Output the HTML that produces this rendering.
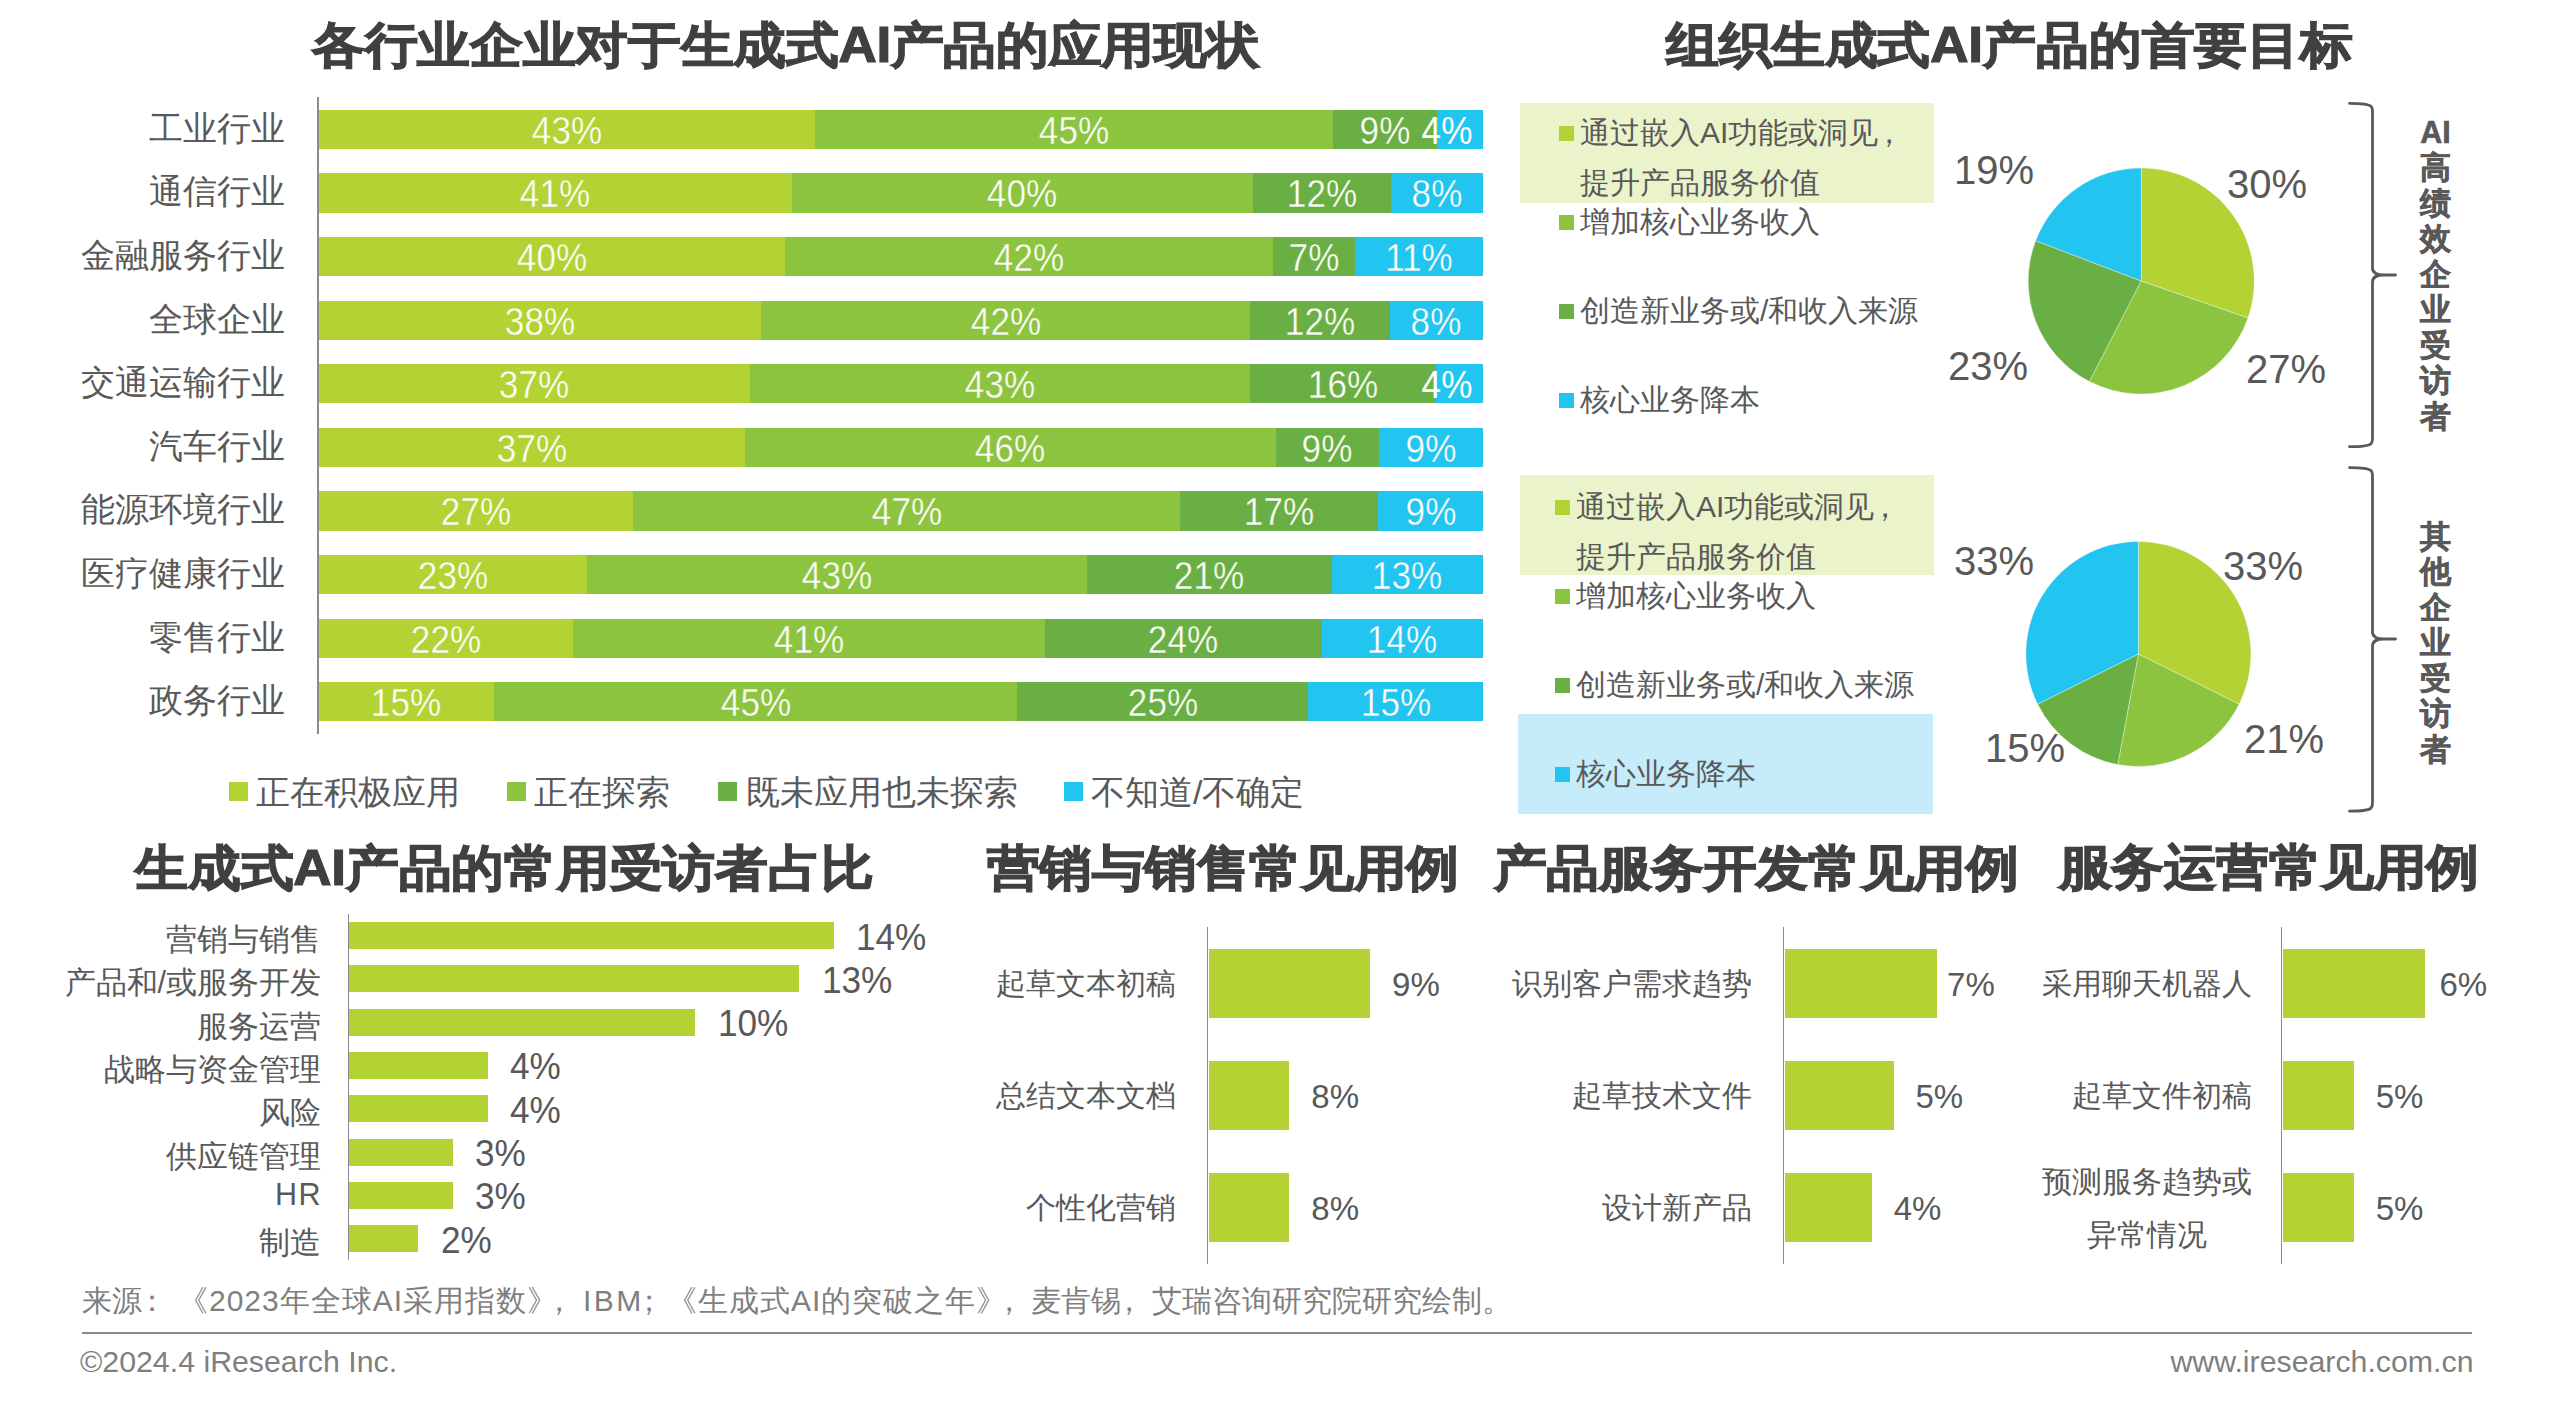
<!DOCTYPE html>
<html><head><meta charset="utf-8"><title>iResearch AI</title><style>
html,body{margin:0;padding:0;}
body{width:2550px;height:1412px;background:#fff;position:relative;overflow:hidden;font-family:"Liberation Sans",sans-serif;}
.a{position:absolute;white-space:nowrap;line-height:1;}
.r{position:absolute;}
</style></head><body>
<div class="a" style="left:312px;top:20px;font-size:53px;color:#404040;font-weight:bold;letter-spacing:-0.35px;-webkit-text-stroke:1.3px #404040;transform:scaleY(0.93);transform-origin:0 0;">各行业企业对于生成式AI产品的应用现状</div>
<div class="a" style="left:1666px;top:19.5px;font-size:53px;color:#404040;font-weight:bold;letter-spacing:-0.15px;-webkit-text-stroke:1.3px #404040;transform:scaleY(0.93);transform-origin:0 0;">组织生成式AI产品的首要目标</div>
<div class="a" style="left:135px;top:842.5px;font-size:53px;color:#404040;font-weight:bold;letter-spacing:-0.25px;-webkit-text-stroke:1.3px #404040;transform:scaleY(0.93);transform-origin:0 0;">生成式AI产品的常用受访者占比</div>
<div class="a" style="left:987px;top:843px;font-size:53px;color:#404040;font-weight:bold;letter-spacing:-0.6px;-webkit-text-stroke:1.3px #404040;transform:scaleY(0.93);transform-origin:0 0;">营销与销售常见用例</div>
<div class="a" style="left:1494px;top:843px;font-size:53px;color:#404040;font-weight:bold;letter-spacing:-0.6px;-webkit-text-stroke:1.3px #404040;transform:scaleY(0.93);transform-origin:0 0;">产品服务开发常见用例</div>
<div class="a" style="left:2058.5px;top:841.5px;font-size:53px;color:#404040;font-weight:bold;letter-spacing:-0.45px;-webkit-text-stroke:1.3px #404040;transform:scaleY(0.93);transform-origin:0 0;">服务运营常见用例</div>
<div class="r" style="left:317.2px;top:97px;width:1.6px;height:637px;background:#8a8a94;"></div>
<div class="r" style="left:319.0px;top:109.8px;width:496.06px;height:39.3px;background:#b3d234;"></div>
<div class="a" style="left:66.78px;width:1000px;text-align:center;top:111.8px;font-size:38.6px;color:#fdfef8;transform:scaleX(0.91);-webkit-text-stroke:0.4px #b3d234;">43%</div>
<div class="r" style="left:814.56px;top:109.8px;width:519.11px;height:39.3px;background:#8cc43f;"></div>
<div class="a" style="left:573.87px;width:1000px;text-align:center;top:111.8px;font-size:38.6px;color:#fdfef8;transform:scaleX(0.91);-webkit-text-stroke:0.4px #8cc43f;">45%</div>
<div class="r" style="left:1333.18px;top:109.8px;width:104.22px;height:39.3px;background:#6aaf43;"></div>
<div class="a" style="left:885.04px;width:1000px;text-align:center;top:111.8px;font-size:38.6px;color:#fdfef8;transform:scaleX(0.91);-webkit-text-stroke:0.4px #6aaf43;">9%</div>
<div class="r" style="left:1436.9px;top:109.8px;width:46.6px;height:39.3px;background:#22c4f0;"></div>
<div class="a" style="left:946.6px;width:1000px;text-align:center;top:111.8px;font-size:38.6px;color:#fdfef8;transform:scaleX(0.91);-webkit-text-stroke:0px #22c4f0;">4%</div>
<div class="a" style="right:2265px;top:110.8px;font-size:34px;color:#595959;">工业行业</div>
<div class="r" style="left:319.0px;top:173.4px;width:473.01px;height:39.3px;background:#b3d234;"></div>
<div class="a" style="left:55.26px;width:1000px;text-align:center;top:175.4px;font-size:38.6px;color:#fdfef8;transform:scaleX(0.91);-webkit-text-stroke:0.4px #b3d234;">41%</div>
<div class="r" style="left:791.51px;top:173.4px;width:461.49px;height:39.3px;background:#8cc43f;"></div>
<div class="a" style="left:522.01px;width:1000px;text-align:center;top:175.4px;font-size:38.6px;color:#fdfef8;transform:scaleX(0.91);-webkit-text-stroke:0.4px #8cc43f;">40%</div>
<div class="r" style="left:1252.5px;top:173.4px;width:138.8px;height:39.3px;background:#6aaf43;"></div>
<div class="a" style="left:821.65px;width:1000px;text-align:center;top:175.4px;font-size:38.6px;color:#fdfef8;transform:scaleX(0.91);-webkit-text-stroke:0.4px #6aaf43;">12%</div>
<div class="r" style="left:1390.8px;top:173.4px;width:92.7px;height:39.3px;background:#22c4f0;"></div>
<div class="a" style="left:936.9px;width:1000px;text-align:center;top:175.4px;font-size:38.6px;color:#fdfef8;transform:scaleX(0.91);-webkit-text-stroke:0.4px #22c4f0;">8%</div>
<div class="a" style="right:2265px;top:174.4px;font-size:34px;color:#595959;">通信行业</div>
<div class="r" style="left:319.0px;top:237.0px;width:466.1px;height:39.3px;background:#b3d234;"></div>
<div class="a" style="left:51.8px;width:1000px;text-align:center;top:239.0px;font-size:38.6px;color:#fdfef8;transform:scaleX(0.91);-webkit-text-stroke:0.4px #b3d234;">40%</div>
<div class="r" style="left:784.6px;top:237.0px;width:489.38px;height:39.3px;background:#8cc43f;"></div>
<div class="a" style="left:529.04px;width:1000px;text-align:center;top:239.0px;font-size:38.6px;color:#fdfef8;transform:scaleX(0.91);-webkit-text-stroke:0.4px #8cc43f;">42%</div>
<div class="r" style="left:1273.48px;top:237.0px;width:81.98px;height:39.3px;background:#6aaf43;"></div>
<div class="a" style="left:814.22px;width:1000px;text-align:center;top:239.0px;font-size:38.6px;color:#fdfef8;transform:scaleX(0.91);-webkit-text-stroke:0.4px #6aaf43;">7%</div>
<div class="r" style="left:1354.96px;top:237.0px;width:128.54px;height:39.3px;background:#22c4f0;"></div>
<div class="a" style="left:918.98px;width:1000px;text-align:center;top:239.0px;font-size:38.6px;color:#fdfef8;transform:scaleX(0.91);-webkit-text-stroke:0.4px #22c4f0;">11%</div>
<div class="a" style="right:2265px;top:238.0px;font-size:34px;color:#595959;">金融服务行业</div>
<div class="r" style="left:319.0px;top:300.6px;width:442.82px;height:39.3px;background:#b3d234;"></div>
<div class="a" style="left:40.16px;width:1000px;text-align:center;top:302.6px;font-size:38.6px;color:#fdfef8;transform:scaleX(0.91);-webkit-text-stroke:0.4px #b3d234;">38%</div>
<div class="r" style="left:761.32px;top:300.6px;width:489.38px;height:39.3px;background:#8cc43f;"></div>
<div class="a" style="left:505.76px;width:1000px;text-align:center;top:302.6px;font-size:38.6px;color:#fdfef8;transform:scaleX(0.91);-webkit-text-stroke:0.4px #8cc43f;">42%</div>
<div class="r" style="left:1250.2px;top:300.6px;width:140.18px;height:39.3px;background:#6aaf43;"></div>
<div class="a" style="left:820.04px;width:1000px;text-align:center;top:302.6px;font-size:38.6px;color:#fdfef8;transform:scaleX(0.91);-webkit-text-stroke:0.4px #6aaf43;">12%</div>
<div class="r" style="left:1389.88px;top:300.6px;width:93.62px;height:39.3px;background:#22c4f0;"></div>
<div class="a" style="left:936.44px;width:1000px;text-align:center;top:302.6px;font-size:38.6px;color:#fdfef8;transform:scaleX(0.91);-webkit-text-stroke:0.4px #22c4f0;">8%</div>
<div class="a" style="right:2265px;top:301.6px;font-size:34px;color:#595959;">全球企业</div>
<div class="r" style="left:319.0px;top:364.2px;width:431.18px;height:39.3px;background:#b3d234;"></div>
<div class="a" style="left:34.34px;width:1000px;text-align:center;top:366.2px;font-size:38.6px;color:#fdfef8;transform:scaleX(0.91);-webkit-text-stroke:0.4px #b3d234;">37%</div>
<div class="r" style="left:749.68px;top:364.2px;width:501.02px;height:39.3px;background:#8cc43f;"></div>
<div class="a" style="left:499.94px;width:1000px;text-align:center;top:366.2px;font-size:38.6px;color:#fdfef8;transform:scaleX(0.91);-webkit-text-stroke:0.4px #8cc43f;">43%</div>
<div class="r" style="left:1250.2px;top:364.2px;width:186.74px;height:39.3px;background:#6aaf43;"></div>
<div class="a" style="left:843.32px;width:1000px;text-align:center;top:366.2px;font-size:38.6px;color:#fdfef8;transform:scaleX(0.91);-webkit-text-stroke:0.4px #6aaf43;">16%</div>
<div class="r" style="left:1436.44px;top:364.2px;width:47.06px;height:39.3px;background:#22c4f0;"></div>
<div class="a" style="left:946.6px;width:1000px;text-align:center;top:366.2px;font-size:38.6px;color:#fdfef8;transform:scaleX(0.91);-webkit-text-stroke:0px #22c4f0;">4%</div>
<div class="a" style="right:2265px;top:365.2px;font-size:34px;color:#595959;">交通运输行业</div>
<div class="r" style="left:319.0px;top:427.8px;width:426.92px;height:39.3px;background:#b3d234;"></div>
<div class="a" style="left:32.21px;width:1000px;text-align:center;top:429.8px;font-size:38.6px;color:#fdfef8;transform:scaleX(0.91);-webkit-text-stroke:0.4px #b3d234;">37%</div>
<div class="r" style="left:745.42px;top:427.8px;width:530.64px;height:39.3px;background:#8cc43f;"></div>
<div class="a" style="left:510.49px;width:1000px;text-align:center;top:429.8px;font-size:38.6px;color:#fdfef8;transform:scaleX(0.91);-webkit-text-stroke:0.4px #8cc43f;">46%</div>
<div class="r" style="left:1275.55px;top:427.8px;width:104.22px;height:39.3px;background:#6aaf43;"></div>
<div class="a" style="left:827.42px;width:1000px;text-align:center;top:429.8px;font-size:38.6px;color:#fdfef8;transform:scaleX(0.91);-webkit-text-stroke:0.4px #6aaf43;">9%</div>
<div class="r" style="left:1379.28px;top:427.8px;width:104.22px;height:39.3px;background:#22c4f0;"></div>
<div class="a" style="left:931.14px;width:1000px;text-align:center;top:429.8px;font-size:38.6px;color:#fdfef8;transform:scaleX(0.91);-webkit-text-stroke:0.4px #22c4f0;">9%</div>
<div class="a" style="right:2265px;top:428.8px;font-size:34px;color:#595959;">汽车行业</div>
<div class="r" style="left:319.0px;top:491.4px;width:314.78px;height:39.3px;background:#b3d234;"></div>
<div class="a" style="left:-23.86px;width:1000px;text-align:center;top:493.4px;font-size:38.6px;color:#fdfef8;transform:scaleX(0.91);-webkit-text-stroke:0.4px #b3d234;">27%</div>
<div class="r" style="left:633.28px;top:491.4px;width:547.58px;height:39.3px;background:#8cc43f;"></div>
<div class="a" style="left:406.82px;width:1000px;text-align:center;top:493.4px;font-size:38.6px;color:#fdfef8;transform:scaleX(0.91);-webkit-text-stroke:0.4px #8cc43f;">47%</div>
<div class="r" style="left:1180.36px;top:491.4px;width:198.38px;height:39.3px;background:#6aaf43;"></div>
<div class="a" style="left:779.3px;width:1000px;text-align:center;top:493.4px;font-size:38.6px;color:#fdfef8;transform:scaleX(0.91);-webkit-text-stroke:0.4px #6aaf43;">17%</div>
<div class="r" style="left:1378.24px;top:491.4px;width:105.26px;height:39.3px;background:#22c4f0;"></div>
<div class="a" style="left:930.62px;width:1000px;text-align:center;top:493.4px;font-size:38.6px;color:#fdfef8;transform:scaleX(0.91);-webkit-text-stroke:0.4px #22c4f0;">9%</div>
<div class="a" style="right:2265px;top:492.4px;font-size:34px;color:#595959;">能源环境行业</div>
<div class="r" style="left:319.0px;top:555.0px;width:268.22px;height:39.3px;background:#b3d234;"></div>
<div class="a" style="left:-47.14px;width:1000px;text-align:center;top:557.0px;font-size:38.6px;color:#fdfef8;transform:scaleX(0.91);-webkit-text-stroke:0.4px #b3d234;">23%</div>
<div class="r" style="left:586.72px;top:555.0px;width:501.02px;height:39.3px;background:#8cc43f;"></div>
<div class="a" style="left:336.98px;width:1000px;text-align:center;top:557.0px;font-size:38.6px;color:#fdfef8;transform:scaleX(0.91);-webkit-text-stroke:0.4px #8cc43f;">43%</div>
<div class="r" style="left:1087.24px;top:555.0px;width:244.94px;height:39.3px;background:#6aaf43;"></div>
<div class="a" style="left:709.46px;width:1000px;text-align:center;top:557.0px;font-size:38.6px;color:#fdfef8;transform:scaleX(0.91);-webkit-text-stroke:0.4px #6aaf43;">21%</div>
<div class="r" style="left:1331.68px;top:555.0px;width:151.82px;height:39.3px;background:#22c4f0;"></div>
<div class="a" style="left:907.34px;width:1000px;text-align:center;top:557.0px;font-size:38.6px;color:#fdfef8;transform:scaleX(0.91);-webkit-text-stroke:0.4px #22c4f0;">13%</div>
<div class="a" style="right:2265px;top:556.0px;font-size:34px;color:#595959;">医疗健康行业</div>
<div class="r" style="left:319.0px;top:618.6px;width:254.04px;height:39.3px;background:#b3d234;"></div>
<div class="a" style="left:-54.23px;width:1000px;text-align:center;top:620.6px;font-size:38.6px;color:#fdfef8;transform:scaleX(0.91);-webkit-text-stroke:0.4px #b3d234;">22%</div>
<div class="r" style="left:572.54px;top:618.6px;width:473.01px;height:39.3px;background:#8cc43f;"></div>
<div class="a" style="left:308.8px;width:1000px;text-align:center;top:620.6px;font-size:38.6px;color:#fdfef8;transform:scaleX(0.91);-webkit-text-stroke:0.4px #8cc43f;">41%</div>
<div class="r" style="left:1045.06px;top:618.6px;width:277.09px;height:39.3px;background:#6aaf43;"></div>
<div class="a" style="left:683.36px;width:1000px;text-align:center;top:620.6px;font-size:38.6px;color:#fdfef8;transform:scaleX(0.91);-webkit-text-stroke:0.4px #6aaf43;">24%</div>
<div class="r" style="left:1321.65px;top:618.6px;width:161.85px;height:39.3px;background:#22c4f0;"></div>
<div class="a" style="left:902.33px;width:1000px;text-align:center;top:620.6px;font-size:38.6px;color:#fdfef8;transform:scaleX(0.91);-webkit-text-stroke:0.4px #22c4f0;">14%</div>
<div class="a" style="right:2265px;top:619.6px;font-size:34px;color:#595959;">零售行业</div>
<div class="r" style="left:319.0px;top:682.2px;width:175.1px;height:39.3px;background:#b3d234;"></div>
<div class="a" style="left:-93.7px;width:1000px;text-align:center;top:684.2px;font-size:38.6px;color:#fdfef8;transform:scaleX(0.91);-webkit-text-stroke:0.4px #b3d234;">15%</div>
<div class="r" style="left:493.6px;top:682.2px;width:524.3px;height:39.3px;background:#8cc43f;"></div>
<div class="a" style="left:255.5px;width:1000px;text-align:center;top:684.2px;font-size:38.6px;color:#fdfef8;transform:scaleX(0.91);-webkit-text-stroke:0.4px #8cc43f;">45%</div>
<div class="r" style="left:1017.4px;top:682.2px;width:291.5px;height:39.3px;background:#6aaf43;"></div>
<div class="a" style="left:662.9px;width:1000px;text-align:center;top:684.2px;font-size:38.6px;color:#fdfef8;transform:scaleX(0.91);-webkit-text-stroke:0.4px #6aaf43;">25%</div>
<div class="r" style="left:1308.4px;top:682.2px;width:175.1px;height:39.3px;background:#22c4f0;"></div>
<div class="a" style="left:895.7px;width:1000px;text-align:center;top:684.2px;font-size:38.6px;color:#fdfef8;transform:scaleX(0.91);-webkit-text-stroke:0.4px #22c4f0;">15%</div>
<div class="a" style="right:2265px;top:683.2px;font-size:34px;color:#595959;">政务行业</div>
<div class="r" style="left:229px;top:782px;width:19px;height:19px;background:#b3d234;"></div>
<div class="a" style="left:256px;top:775px;font-size:34px;color:#595959;">正在积极应用</div>
<div class="r" style="left:507px;top:782px;width:19px;height:19px;background:#8cc43f;"></div>
<div class="a" style="left:534px;top:775px;font-size:34px;color:#595959;">正在探索</div>
<div class="r" style="left:718px;top:782px;width:19px;height:19px;background:#6aaf43;"></div>
<div class="a" style="left:746px;top:775px;font-size:34px;color:#595959;">既未应用也未探索</div>
<div class="r" style="left:1064px;top:782px;width:19px;height:19px;background:#22c4f0;"></div>
<div class="a" style="left:1091px;top:775px;font-size:34px;color:#595959;">不知道/不确定</div>
<div class="r" style="left:1519.5px;top:103px;width:414.5px;height:100px;background:#ebf3cb;"></div>
<div class="r" style="left:1559px;top:126px;width:15px;height:15px;background:#b3d234;"></div>
<div class="a" style="left:1580px;top:108px;font-size:30px;color:#595959;line-height:50px;">通过嵌入AI功能或洞见<span style="margin-left:-4px">，</span><br>提升产品服务价值</div>
<div class="r" style="left:1559px;top:215px;width:15px;height:15px;background:#8cc43f;"></div>
<div class="a" style="left:1580px;top:197px;font-size:30px;color:#595959;line-height:50px;">增加核心业务收入</div>
<div class="r" style="left:1559px;top:304px;width:15px;height:15px;background:#6aaf43;"></div>
<div class="a" style="left:1580px;top:286px;font-size:30px;color:#595959;line-height:50px;">创造新业务或/和收入来源</div>
<div class="r" style="left:1559px;top:393px;width:15px;height:15px;background:#22c4f0;"></div>
<div class="a" style="left:1580px;top:375px;font-size:30px;color:#595959;line-height:50px;">核心业务降本</div>
<div class="r" style="left:1519.5px;top:475px;width:414.5px;height:100px;background:#ebf3cb;"></div>
<div class="r" style="left:1518px;top:714px;width:415px;height:100px;background:#c6ecf9;"></div>
<div class="r" style="left:1555px;top:499.5px;width:15px;height:15px;background:#b3d234;"></div>
<div class="a" style="left:1576px;top:481.5px;font-size:30px;color:#595959;line-height:50px;">通过嵌入AI功能或洞见<span style="margin-left:-4px">，</span><br>提升产品服务价值</div>
<div class="r" style="left:1555px;top:588.5px;width:15px;height:15px;background:#8cc43f;"></div>
<div class="a" style="left:1576px;top:570.5px;font-size:30px;color:#595959;line-height:50px;">增加核心业务收入</div>
<div class="r" style="left:1555px;top:677.5px;width:15px;height:15px;background:#6aaf43;"></div>
<div class="a" style="left:1576px;top:659.5px;font-size:30px;color:#595959;line-height:50px;">创造新业务或/和收入来源</div>
<div class="r" style="left:1555px;top:766.5px;width:15px;height:15px;background:#22c4f0;"></div>
<div class="a" style="left:1576px;top:748.5px;font-size:30px;color:#595959;line-height:50px;">核心业务降本</div>
<svg class="r" style="left:0;top:0" width="2550" height="1412" viewBox="0 0 2550 1412"><path d="M2141.2,281 L2141.20,168.00 A113,113 0 0 1 2247.99,317.96 Z" fill="#b3d234" stroke="#ffffff" stroke-opacity="0.35" stroke-width="1" stroke-linejoin="round"/><path d="M2141.2,281 L2247.99,317.96 A113,113 0 0 1 2089.42,381.44 Z" fill="#8cc43f" stroke="#ffffff" stroke-opacity="0.35" stroke-width="1" stroke-linejoin="round"/><path d="M2141.2,281 L2089.42,381.44 A113,113 0 0 1 2035.64,240.67 Z" fill="#6aaf43" stroke="#ffffff" stroke-opacity="0.35" stroke-width="1" stroke-linejoin="round"/><path d="M2141.2,281 L2035.64,240.67 A113,113 0 0 1 2141.20,168.00 Z" fill="#22c4f0" stroke="#ffffff" stroke-opacity="0.35" stroke-width="1" stroke-linejoin="round"/><path d="M2138.4,654 L2138.40,541.50 A112.5,112.5 0 0 1 2239.11,704.15 Z" fill="#b3d234" stroke="#ffffff" stroke-opacity="0.35" stroke-width="1" stroke-linejoin="round"/><path d="M2138.4,654 L2239.11,704.15 A112.5,112.5 0 0 1 2117.73,764.58 Z" fill="#8cc43f" stroke="#ffffff" stroke-opacity="0.35" stroke-width="1" stroke-linejoin="round"/><path d="M2138.4,654 L2117.73,764.58 A112.5,112.5 0 0 1 2037.69,704.15 Z" fill="#6aaf43" stroke="#ffffff" stroke-opacity="0.35" stroke-width="1" stroke-linejoin="round"/><path d="M2138.4,654 L2037.69,704.15 A112.5,112.5 0 0 1 2138.40,541.50 Z" fill="#22c4f0" stroke="#ffffff" stroke-opacity="0.35" stroke-width="1" stroke-linejoin="round"/><path d="M2349.5,103.3 C2362,103.3 2369,104.5 2371,106.3 Q2372.5,107.8 2372.5,111.3 L2372.5,268 C2372.5,273 2377,275 2384,275 L2395.5,275 M2372.5,282 C2372.5,277 2377,275 2384,275 M2372.5,282 L2372.5,438.7 Q2372.5,442.2 2371,443.7 C2369,445.5 2362,446.7 2349.5,446.7" fill="none" stroke="#595959" stroke-width="2.8" stroke-linecap="round" stroke-linejoin="round"/><path d="M2349.5,467.6 C2362,467.6 2369,468.8 2371,470.6 Q2372.5,472.1 2372.5,475.6 L2372.5,632 C2372.5,637 2377,639 2384,639 L2395.5,639 M2372.5,646 C2372.5,641 2377,639 2384,639 M2372.5,646 L2372.5,803.1 Q2372.5,806.6 2371,808.1 C2369,809.9 2362,811.1 2349.5,811.1" fill="none" stroke="#595959" stroke-width="2.8" stroke-linecap="round" stroke-linejoin="round"/></svg>
<div class="a" style="left:1954px;top:150px;font-size:40px;color:#595959;">19%</div>
<div class="a" style="left:2227px;top:164px;font-size:40px;color:#595959;">30%</div>
<div class="a" style="left:1948px;top:346px;font-size:40px;color:#595959;">23%</div>
<div class="a" style="left:2246px;top:349px;font-size:40px;color:#595959;">27%</div>
<div class="a" style="left:1954px;top:541px;font-size:40px;color:#595959;">33%</div>
<div class="a" style="left:2223px;top:546px;font-size:40px;color:#595959;">33%</div>
<div class="a" style="left:1985px;top:728px;font-size:40px;color:#595959;">15%</div>
<div class="a" style="left:2244px;top:719px;font-size:40px;color:#595959;">21%</div>
<div class="a" style="left:1935.5px;width:1000px;text-align:center;top:116.5px;font-size:30.5px;color:#595959;font-weight:bold;-webkit-text-stroke:0.6px #595959;">AI</div>
<div class="a" style="left:1935.5px;width:1000px;text-align:center;top:152.0px;font-size:30.5px;color:#595959;font-weight:bold;-webkit-text-stroke:0.6px #595959;">高</div>
<div class="a" style="left:1935.5px;width:1000px;text-align:center;top:187.5px;font-size:30.5px;color:#595959;font-weight:bold;-webkit-text-stroke:0.6px #595959;">绩</div>
<div class="a" style="left:1935.5px;width:1000px;text-align:center;top:223.0px;font-size:30.5px;color:#595959;font-weight:bold;-webkit-text-stroke:0.6px #595959;">效</div>
<div class="a" style="left:1935.5px;width:1000px;text-align:center;top:258.5px;font-size:30.5px;color:#595959;font-weight:bold;-webkit-text-stroke:0.6px #595959;">企</div>
<div class="a" style="left:1935.5px;width:1000px;text-align:center;top:294.0px;font-size:30.5px;color:#595959;font-weight:bold;-webkit-text-stroke:0.6px #595959;">业</div>
<div class="a" style="left:1935.5px;width:1000px;text-align:center;top:329.5px;font-size:30.5px;color:#595959;font-weight:bold;-webkit-text-stroke:0.6px #595959;">受</div>
<div class="a" style="left:1935.5px;width:1000px;text-align:center;top:365.0px;font-size:30.5px;color:#595959;font-weight:bold;-webkit-text-stroke:0.6px #595959;">访</div>
<div class="a" style="left:1935.5px;width:1000px;text-align:center;top:400.5px;font-size:30.5px;color:#595959;font-weight:bold;-webkit-text-stroke:0.6px #595959;">者</div>
<div class="a" style="left:1935.5px;width:1000px;text-align:center;top:520.5px;font-size:30.5px;color:#595959;font-weight:bold;-webkit-text-stroke:0.6px #595959;">其</div>
<div class="a" style="left:1935.5px;width:1000px;text-align:center;top:556.0px;font-size:30.5px;color:#595959;font-weight:bold;-webkit-text-stroke:0.6px #595959;">他</div>
<div class="a" style="left:1935.5px;width:1000px;text-align:center;top:591.5px;font-size:30.5px;color:#595959;font-weight:bold;-webkit-text-stroke:0.6px #595959;">企</div>
<div class="a" style="left:1935.5px;width:1000px;text-align:center;top:627.0px;font-size:30.5px;color:#595959;font-weight:bold;-webkit-text-stroke:0.6px #595959;">业</div>
<div class="a" style="left:1935.5px;width:1000px;text-align:center;top:662.5px;font-size:30.5px;color:#595959;font-weight:bold;-webkit-text-stroke:0.6px #595959;">受</div>
<div class="a" style="left:1935.5px;width:1000px;text-align:center;top:698.0px;font-size:30.5px;color:#595959;font-weight:bold;-webkit-text-stroke:0.6px #595959;">访</div>
<div class="a" style="left:1935.5px;width:1000px;text-align:center;top:733.5px;font-size:30.5px;color:#595959;font-weight:bold;-webkit-text-stroke:0.6px #595959;">者</div>
<div class="r" style="left:347.7px;top:914px;width:1.6px;height:346px;background:#8a8a94;"></div>
<div class="r" style="left:349px;top:922.0px;width:484.96px;height:27px;background:#b3d234;"></div>
<div class="a" style="left:856.46px;top:918.5px;font-size:37px;color:#595959;transform:scaleX(0.95);transform-origin:0 0;">14%</div>
<div class="a" style="right:2229px;top:924.0px;font-size:30.5px;color:#595959;">营销与销售</div>
<div class="r" style="left:349px;top:965.3px;width:450.32px;height:27px;background:#b3d234;"></div>
<div class="a" style="left:821.82px;top:961.8px;font-size:37px;color:#595959;transform:scaleX(0.95);transform-origin:0 0;">13%</div>
<div class="a" style="right:2229px;top:967.3px;font-size:30.5px;color:#595959;">产品和/或服务开发</div>
<div class="r" style="left:349px;top:1008.6px;width:346.4px;height:27px;background:#b3d234;"></div>
<div class="a" style="left:717.9px;top:1005.1px;font-size:37px;color:#595959;transform:scaleX(0.95);transform-origin:0 0;">10%</div>
<div class="a" style="right:2229px;top:1010.6px;font-size:30.5px;color:#595959;">服务运营</div>
<div class="r" style="left:349px;top:1051.9px;width:138.56px;height:27px;background:#b3d234;"></div>
<div class="a" style="left:510.06px;top:1048.4px;font-size:37px;color:#595959;transform:scaleX(0.95);transform-origin:0 0;">4%</div>
<div class="a" style="right:2229px;top:1053.9px;font-size:30.5px;color:#595959;">战略与资金管理</div>
<div class="r" style="left:349px;top:1095.2px;width:138.56px;height:27px;background:#b3d234;"></div>
<div class="a" style="left:510.06px;top:1091.7px;font-size:37px;color:#595959;transform:scaleX(0.95);transform-origin:0 0;">4%</div>
<div class="a" style="right:2229px;top:1097.2px;font-size:30.5px;color:#595959;">风险</div>
<div class="r" style="left:349px;top:1138.5px;width:103.92px;height:27px;background:#b3d234;"></div>
<div class="a" style="left:475.42px;top:1135.0px;font-size:37px;color:#595959;transform:scaleX(0.95);transform-origin:0 0;">3%</div>
<div class="a" style="right:2229px;top:1140.5px;font-size:30.5px;color:#595959;">供应链管理</div>
<div class="r" style="left:349px;top:1181.8px;width:103.92px;height:27px;background:#b3d234;"></div>
<div class="a" style="left:475.42px;top:1178.3px;font-size:37px;color:#595959;transform:scaleX(0.95);transform-origin:0 0;">3%</div>
<div class="a" style="right:2228px;top:1178.8px;font-size:30.5px;color:#595959;letter-spacing:1.5px;">HR</div>
<div class="r" style="left:349px;top:1225.1px;width:69.28px;height:27px;background:#b3d234;"></div>
<div class="a" style="left:440.78px;top:1221.6px;font-size:37px;color:#595959;transform:scaleX(0.95);transform-origin:0 0;">2%</div>
<div class="a" style="right:2229px;top:1227.1px;font-size:30.5px;color:#595959;">制造</div>
<div class="r" style="left:1206.7px;top:927px;width:1.6px;height:337px;background:#8a8a94;"></div>
<div class="r" style="left:1208.5px;top:948.5px;width:161.6px;height:69.5px;background:#b3d234;"></div>
<div class="a" style="left:1392.1px;top:967.5px;font-size:33px;color:#595959;">9%</div>
<div class="a" style="right:1374px;top:968.5px;font-size:30.3px;color:#595959;">起草文本初稿</div>
<div class="r" style="left:1208.5px;top:1060.5px;width:80.8px;height:69.5px;background:#b3d234;"></div>
<div class="a" style="left:1311.3px;top:1079.5px;font-size:33px;color:#595959;">8%</div>
<div class="a" style="right:1374px;top:1080.5px;font-size:30.3px;color:#595959;">总结文本文档</div>
<div class="r" style="left:1208.5px;top:1172.5px;width:80.8px;height:69.5px;background:#b3d234;"></div>
<div class="a" style="left:1311.3px;top:1191.5px;font-size:33px;color:#595959;">8%</div>
<div class="a" style="right:1374px;top:1192.5px;font-size:30.3px;color:#595959;">个性化营销</div>
<div class="r" style="left:1782.7px;top:927px;width:1.6px;height:337px;background:#8a8a94;"></div>
<div class="r" style="left:1784.5px;top:948.5px;width:152.6px;height:69.5px;background:#b3d234;"></div>
<div class="a" style="left:1947.1px;top:967.5px;font-size:33px;color:#595959;">7%</div>
<div class="a" style="right:798px;top:968.5px;font-size:30.3px;color:#595959;">识别客户需求趋势</div>
<div class="r" style="left:1784.5px;top:1060.5px;width:109.0px;height:69.5px;background:#b3d234;"></div>
<div class="a" style="left:1915.5px;top:1079.5px;font-size:33px;color:#595959;">5%</div>
<div class="a" style="right:798px;top:1080.5px;font-size:30.3px;color:#595959;">起草技术文件</div>
<div class="r" style="left:1784.5px;top:1172.5px;width:87.2px;height:69.5px;background:#b3d234;"></div>
<div class="a" style="left:1893.7px;top:1191.5px;font-size:33px;color:#595959;">4%</div>
<div class="a" style="right:798px;top:1192.5px;font-size:30.3px;color:#595959;">设计新产品</div>
<div class="r" style="left:2280.7px;top:927px;width:1.6px;height:337px;background:#8a8a94;"></div>
<div class="r" style="left:2282.5px;top:948.5px;width:142.4px;height:69.5px;background:#b3d234;"></div>
<div class="a" style="left:2439.4px;top:967.5px;font-size:33px;color:#595959;">6%</div>
<div class="a" style="right:298px;top:968.5px;font-size:30.3px;color:#595959;">采用聊天机器人</div>
<div class="r" style="left:2282.5px;top:1060.5px;width:71.2px;height:69.5px;background:#b3d234;"></div>
<div class="a" style="left:2375.7px;top:1079.5px;font-size:33px;color:#595959;">5%</div>
<div class="a" style="right:298px;top:1080.5px;font-size:30.3px;color:#595959;">起草文件初稿</div>
<div class="r" style="left:2282.5px;top:1172.5px;width:71.2px;height:69.5px;background:#b3d234;"></div>
<div class="a" style="left:2375.7px;top:1191.5px;font-size:33px;color:#595959;">5%</div>
<div class="a" style="left:1846.5px;width:600px;text-align:center;top:1154.5px;font-size:30.3px;color:#595959;line-height:53px;white-space:normal;">预测服务趋势或<br>异常情况</div>
<div class="a" style="left:82px;top:1286px;font-size:30px;color:#7f7f7f;">来源</div>
<div class="a" style="left:137px;top:1286px;font-size:30px;color:#7f7f7f;">：</div>
<div class="a" style="left:178px;top:1286px;font-size:30px;color:#7f7f7f;letter-spacing:1px;">《2023年全球AI采用指数》</div>
<div class="a" style="left:544px;top:1286px;font-size:30px;color:#7f7f7f;">，</div>
<div class="a" style="left:583px;top:1286px;font-size:30px;color:#7f7f7f;letter-spacing:2.5px;">IBM</div>
<div class="a" style="left:634px;top:1286px;font-size:30px;color:#7f7f7f;">；</div>
<div class="a" style="left:667px;top:1286px;font-size:30px;color:#7f7f7f;letter-spacing:1px;">《生成式AI的突破之年》</div>
<div class="a" style="left:994px;top:1286px;font-size:30px;color:#7f7f7f;">，</div>
<div class="a" style="left:1031px;top:1286px;font-size:30px;color:#7f7f7f;">麦肯锡</div>
<div class="a" style="left:1114px;top:1286px;font-size:30px;color:#7f7f7f;">，</div>
<div class="a" style="left:1152px;top:1286px;font-size:30px;color:#7f7f7f;">艾瑞咨询研究院研究绘制。</div>
<div class="r" style="left:82px;top:1332px;width:2390px;height:2px;background:#8c8c8c;"></div>
<div class="a" style="left:80px;top:1347px;font-size:30.3px;color:#7f7f7f;">©2024.4 iResearch Inc.</div>
<div class="a" style="right:76.5px;top:1347px;font-size:30.3px;color:#7f7f7f;">www.iresearch.com.cn</div>
</body></html>
